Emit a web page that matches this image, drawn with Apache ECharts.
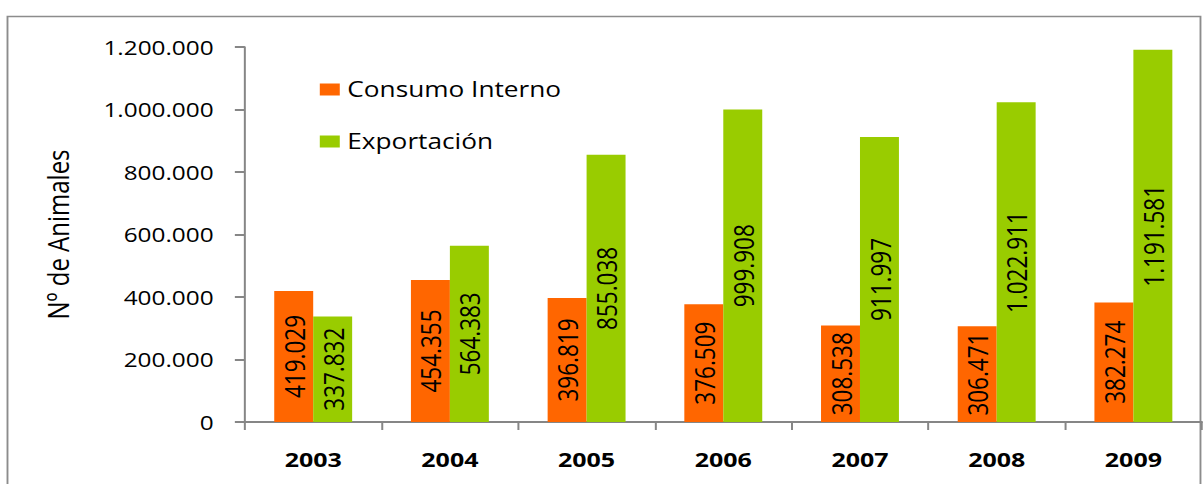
<!DOCTYPE html>
<html>
<head>
<meta charset="utf-8">
<script src="https://cdn.jsdelivr.net/npm/echarts@6/dist/echarts.min.js"></script>
<style>
  html, body { margin: 0; padding: 0; background: #fff; overflow: hidden; }
  /* el gráfico original está estirado en horizontal: se dibuja más estrecho y se escala */
  #chart { width: 963px; height: 484px; transform: scaleX(1.2492); transform-origin: 0 0; }
</style>
</head>
<body>
<div id="chart"></div>
<script>
const years = ['2003', '2004', '2005', '2006', '2007', '2008', '2009'];
const consumoInterno = [419029, 454355, 396819, 376509, 308538, 306471, 382274];
const exportacion = [337832, 564383, 855038, 999908, 911997, 1022911, 1191581];
const yTicks = [0, 200000, 400000, 600000, 800000, 1000000, 1200000];

// separador de miles con punto
const fmt = v => String(v).replace(/\B(?=(\d{3})+(?!\d))/g, '.');

const chart = echarts.init(document.getElementById('chart'), null, { renderer: 'svg' });

const labelStyle = {
    show: true,
    position: 'inside',
    rotate: 90,
    color: '#000',
    fontFamily: '"Open Sans", sans-serif',
    fontSize: 22.5,
    formatter: p => fmt(p.value)
};

const option = {
    backgroundColor: '#fff',
    animation: false,
    graphic: [{
        type: 'rect',
        shape: { x: 6, y: 16.5, width: 955, height: 500 },
        style: { fill: 'none', stroke: '#8c8c8c', lineWidth: 1.5 },
        z: -1
    }],
    legend: {
        orient: 'vertical',
        left: 251,
        top: 74,
        itemWidth: 16,
        itemHeight: 12,
        itemGap: 31,
        icon: 'rect',
        textStyle: { fontFamily: '"Open Sans", sans-serif', fontSize: 21, color: '#000', padding: [0, 0, 0, 1] },
        data: ['Consumo Interno', 'Exportación']
    },
    grid: { left: 196, right: 1, top: 47, bottom: 62 },
    xAxis: {
        type: 'category',
        data: years,
        axisLine: { lineStyle: { color: '#868686', width: 2 } },
        axisTick: { show: true, length: 8, lineStyle: { color: '#868686', width: 1.6 } },
        axisLabel: { color: '#000', fontWeight: 'bold', fontSize: 20, fontFamily: '"Open Sans", sans-serif', margin: 27 }
    },
    yAxis: {
        type: 'value',
        min: yTicks[0],
        max: yTicks[yTicks.length - 1],
        interval: 200000,
        name: 'Nº de Animales',
        nameLocation: 'middle',
        nameGap: 138,
        nameTextStyle: { color: '#000', fontSize: 24, fontFamily: '"Open Sans", sans-serif' },
        axisLine: { show: true, lineStyle: { color: '#868686', width: 1.6 } },
        axisTick: { show: true, length: 8, lineStyle: { color: '#868686', width: 2 } },
        splitLine: { show: false },
        axisLabel: {
            color: '#000',
            fontSize: 19.5,
            fontFamily: '"Open Sans", sans-serif',
            margin: 25,
            formatter: v => fmt(v)
        }
    },
    series: [
        {
            name: 'Consumo Interno',
            type: 'bar',
            data: consumoInterno,
            barGap: '0%',
            barCategoryGap: '43%',
            itemStyle: { color: '#ff6600' },
            label: labelStyle
        },
        {
            name: 'Exportación',
            type: 'bar',
            data: exportacion,
            barGap: '0%',
            barCategoryGap: '43%',
            itemStyle: { color: '#99cc00' },
            label: labelStyle
        }
    ]
};

chart.setOption(option);
</script>
</body>
</html>
